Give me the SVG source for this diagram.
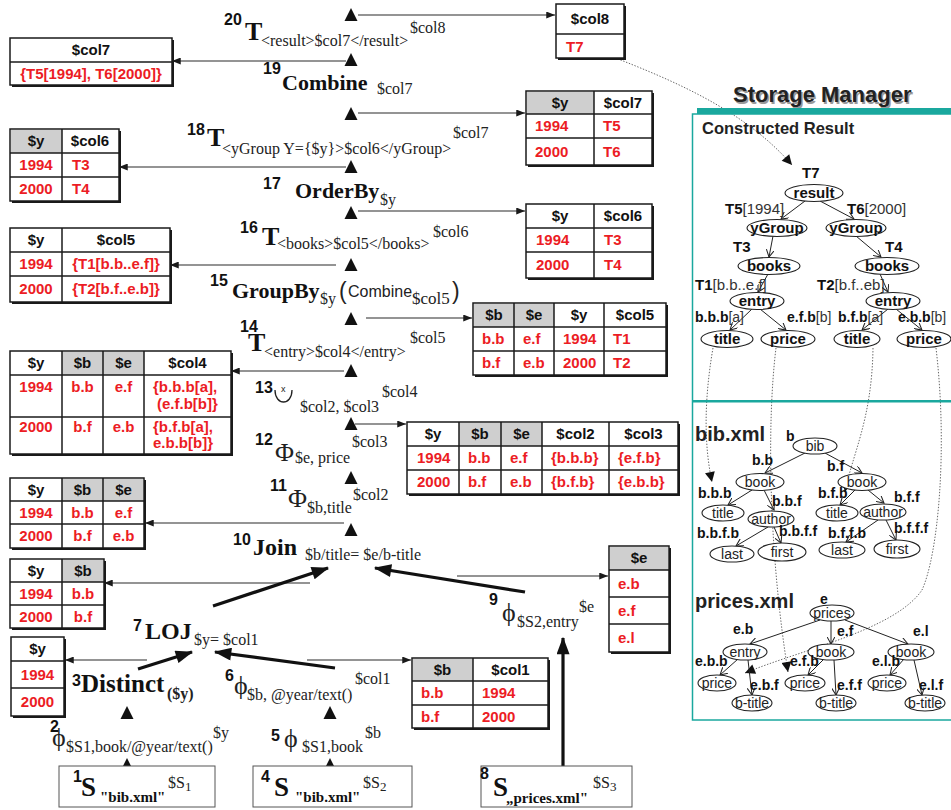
<svg xmlns="http://www.w3.org/2000/svg" width="951" height="810" viewBox="0 0 951 810">
<style>
  .sh{fill:#1a1a1a}
  .tb{fill:#fff;stroke:#1a1a1a;stroke-width:1.5}
  .hd{fill:#cfcfcf}
  .gl{stroke:#1a1a1a;stroke-width:1.5}
  .th{font:bold 15px "Liberation Sans",Arial,sans-serif;fill:#111}
  .td{font:bold 15px "Liberation Sans",Arial,sans-serif;fill:#ec1c24}
  .c{text-anchor:middle}
  .num{font:bold 16px "Liberation Sans",Arial,sans-serif;fill:#111}
  .big{font-family:"Liberation Serif","Times New Roman",serif;font-weight:bold;font-size:24px;fill:#111}
  .sub{font-family:"Liberation Serif","Times New Roman",serif;font-size:16px;fill:#222}
  .phi{font-family:"Liberation Serif","DejaVu Serif",serif;font-size:26px;fill:#222}
  .src{fill:#fff;stroke:#555;stroke-width:1}
  .ln{stroke:#2a2a2a;stroke-width:1.1;fill:none}
  .thick{stroke:#111;stroke-width:3.2;fill:none}
  .dot{stroke:#555;stroke-width:0.9;fill:none;stroke-dasharray:1.4 1.6}
  .tri{fill:#111}
  .nd{fill:#fff;stroke:#222;stroke-width:1.1}
  .nb{font:bold 15px "Liberation Sans",Arial,sans-serif;fill:#111;text-anchor:middle}
  .nr{font:14px "Liberation Sans",Arial,sans-serif;fill:#222;text-anchor:middle}
  .lb{font-family:"Liberation Sans",Arial,sans-serif;font-weight:bold;font-size:14px;fill:#111}
  .lb15{font-size:15px}
  .lr{font-weight:normal;fill:#333}
  .ed{stroke:#222;stroke-width:1;fill:none}
  .teal{fill:#1aa89e}
</style>
<defs>
  <marker id="a" viewBox="0 0 10 8" refX="10" refY="4" markerWidth="9" markerHeight="7" markerUnits="userSpaceOnUse" orient="auto"><path d="M0,0 L10,4 L0,8 z" fill="#1a1a1a"/></marker>
  <marker id="A" viewBox="0 0 16 12" refX="15" refY="6" markerWidth="18" markerHeight="13" markerUnits="userSpaceOnUse" orient="auto"><path d="M0,0 L16,6 L0,12 z" fill="#111"/></marker>
  <marker id="d" viewBox="0 0 10 10" refX="10" refY="5" markerWidth="11" markerHeight="10" markerUnits="userSpaceOnUse" orient="auto"><path d="M0,0 L10,5 L0,10 z" fill="#111"/></marker>
  <marker id="v" viewBox="0 0 10 10" refX="9" refY="5" markerWidth="8" markerHeight="8" markerUnits="userSpaceOnUse" orient="auto"><path d="M0,0 L9,5 L0,10" fill="none" stroke="#222" stroke-width="1.3"/></marker>
  <path id="tri" d="M0,0 L6.5,13 L-6.5,13 z"/>
</defs>
<rect width="951" height="810" fill="#fff"/>

<!-- ===== connectors ===== -->
<g id="connectors">
  <!-- pipeline triangles -->
  <g class="tri">
    <use href="#tri" x="351" y="8"/>
    <use href="#tri" x="351" y="53"/>
    <use href="#tri" x="351" y="107"/>
    <use href="#tri" x="351" y="160"/>
    <use href="#tri" x="351" y="206"/>
    <use href="#tri" x="351" y="258"/>
    <use href="#tri" x="351" y="312"/>
    <use href="#tri" x="351" y="364"/>
    <use href="#tri" x="351" y="417"/>
    <use href="#tri" x="351" y="471"/>
    <use href="#tri" x="351" y="523"/>
    <use href="#tri" x="127" y="706"/>
    <use href="#tri" x="330" y="706"/>
    <use href="#tri" x="127" y="758"/>
    <use href="#tri" x="330" y="758"/>
  </g>
  <!-- intermediate results -->
  <line class="ln" x1="358" y1="15" x2="555" y2="15" marker-end="url(#a)"/>
  <line class="ln" x1="346" y1="61" x2="172" y2="61" marker-end="url(#a)"/>
  <line class="ln" x1="358" y1="113" x2="525" y2="113" marker-end="url(#a)"/>
  <line class="ln" x1="346" y1="167" x2="119" y2="167" marker-end="url(#a)"/>
  <line class="ln" x1="358" y1="211" x2="525" y2="211" marker-end="url(#a)"/>
  <line class="ln" x1="336" y1="265" x2="170" y2="265" marker-end="url(#a)"/>
  <line class="ln" x1="366" y1="318" x2="472" y2="318" marker-end="url(#a)"/>
  <line class="ln" x1="344" y1="371" x2="231" y2="371" marker-end="url(#a)"/>
  <line class="ln" x1="355" y1="424" x2="406" y2="424" marker-end="url(#a)"/>
  <line class="ln" x1="344" y1="523" x2="145" y2="523" marker-end="url(#a)"/>
  <line class="ln" x1="310" y1="583" x2="104" y2="583" marker-end="url(#a)"/>
  <line class="ln" x1="457" y1="576" x2="608" y2="576" marker-end="url(#a)"/>
  <line class="ln" x1="147" y1="660" x2="65" y2="660" marker-end="url(#a)"/>
  <line class="ln" x1="307" y1="660" x2="411" y2="660" marker-end="url(#a)"/>
  <!-- data flow -->
  <line class="thick" x1="213" y1="606" x2="328" y2="568" marker-end="url(#A)"/>
  <line class="thick" x1="525" y1="592" x2="375" y2="568" marker-end="url(#A)"/>
  <line class="thick" x1="138" y1="669" x2="192" y2="652" marker-end="url(#A)"/>
  <line class="thick" x1="335" y1="668" x2="215" y2="652" marker-end="url(#A)"/>
  <line class="thick" x1="563" y1="766" x2="563" y2="638" marker-end="url(#A)"/>
  <!-- references into the stored trees -->
  <path class="dot" d="M587,47 C660,75 740,105 792,165" marker-end="url(#d)"/>
  <path class="dot" d="M713,348 C704,400 704,445 712,482" marker-end="url(#d)"/>
  <path class="dot" d="M776,348 C766,430 770,560 788,672" marker-end="url(#d)"/>
  <path class="dot" d="M873,348 C872,420 852,455 845,492" marker-end="url(#d)"/>
  <path class="dot" d="M936,348 C948,450 938,555 922,590 C895,630 800,650 745,673" marker-end="url(#d)"/>
</g>

<!-- ===== tables ===== -->
<g id="t-col8">
  <rect class="sh" x="558" y="6" width="68" height="54"/>
  <rect class="tb" x="556" y="4" width="68" height="54"/>
  <line class="gl" x1="556" y1="34" x2="624" y2="34"/>
  <text class="th c" x="590" y="24">$col8</text>
  <text class="td" x="566" y="52">T7</text>
</g>
<g id="t-col7">
  <rect class="sh" x="12" y="40" width="162" height="47"/>
  <rect class="tb" x="10" y="38" width="162" height="47"/>
  <line class="gl" x1="10" y1="62" x2="172" y2="62"/>
  <text class="th c" x="91" y="55">$col7</text>
  <text class="td c" x="91" y="79">{T5[1994], T6[2000]}</text>
</g>
<g id="t-y-col7">
  <rect class="sh" x="528" y="93" width="126" height="74"/>
  <rect class="tb" x="526" y="91" width="126" height="74"/>
  <rect class="hd" x="527" y="92" width="67" height="22"/>
  <line class="gl" x1="526" y1="114" x2="652" y2="114"/>
  <line class="gl" x1="526" y1="138" x2="652" y2="138"/>
  <line class="gl" x1="594" y1="91" x2="594" y2="165"/>
  <text class="th c" x="560" y="108">$y</text>
  <text class="th c" x="623" y="108">$col7</text>
  <text class="td" x="535" y="131">1994</text><text class="td" x="603" y="131">T5</text>
  <text class="td" x="535" y="157">2000</text><text class="td" x="603" y="157">T6</text>
</g>
<g id="t-y-col6-left">
  <rect class="sh" x="12" y="131" width="109" height="72"/>
  <rect class="tb" x="10" y="129" width="109" height="72"/>
  <rect class="hd" x="11" y="130" width="51" height="23"/>
  <line class="gl" x1="10" y1="153" x2="119" y2="153"/>
  <line class="gl" x1="10" y1="177" x2="119" y2="177"/>
  <line class="gl" x1="62" y1="129" x2="62" y2="201"/>
  <text class="th c" x="36" y="146">$y</text>
  <text class="th c" x="90" y="146">$col6</text>
  <text class="td c" x="36" y="170">1994</text><text class="td" x="72" y="170">T3</text>
  <text class="td c" x="36" y="194">2000</text><text class="td" x="72" y="194">T4</text>
</g>
<g id="t-y-col5-left">
  <rect class="sh" x="12" y="230" width="160" height="74"/>
  <rect class="tb" x="10" y="228" width="160" height="74"/>
  <line class="gl" x1="10" y1="252" x2="170" y2="252"/>
  <line class="gl" x1="10" y1="276" x2="170" y2="276"/>
  <line class="gl" x1="62" y1="228" x2="62" y2="302"/>
  <text class="th c" x="36" y="245">$y</text>
  <text class="th c" x="116" y="245">$col5</text>
  <text class="td c" x="36" y="269">1994</text><text class="td c" x="116" y="269">{T1[b.b..e.f]}</text>
  <text class="td c" x="36" y="294">2000</text><text class="td c" x="116" y="294">{T2[b.f..e.b]}</text>
</g>
<g id="t-y-col6-right">
  <rect class="sh" x="528" y="206" width="126" height="74"/>
  <rect class="tb" x="526" y="204" width="126" height="74"/>
  <line class="gl" x1="526" y1="228" x2="652" y2="228"/>
  <line class="gl" x1="526" y1="252" x2="652" y2="252"/>
  <line class="gl" x1="594" y1="204" x2="594" y2="278"/>
  <text class="th c" x="560" y="221">$y</text>
  <text class="th c" x="623" y="221">$col6</text>
  <text class="td" x="536" y="245">1994</text><text class="td" x="604" y="245">T3</text>
  <text class="td" x="536" y="270">2000</text><text class="td" x="604" y="270">T4</text>
</g>
<g id="t-b-e-y-col5">
  <rect class="sh" x="475" y="305" width="193" height="72"/>
  <rect class="tb" x="473" y="303" width="193" height="72"/>
  <rect class="hd" x="474" y="304" width="80" height="23"/>
  <line class="gl" x1="473" y1="327" x2="666" y2="327"/>
  <line class="gl" x1="473" y1="351" x2="666" y2="351"/>
  <line class="gl" x1="514" y1="303" x2="514" y2="375"/>
  <line class="gl" x1="554" y1="303" x2="554" y2="375"/>
  <line class="gl" x1="604" y1="303" x2="604" y2="375"/>
  <text class="th c" x="494" y="320">$b</text>
  <text class="th c" x="534" y="320">$e</text>
  <text class="th c" x="579" y="320">$y</text>
  <text class="th c" x="635" y="320">$col5</text>
  <text class="td" x="482" y="344">b.b</text><text class="td" x="523" y="344">e.f</text><text class="td" x="563" y="344">1994</text><text class="td" x="613" y="344">T1</text>
  <text class="td" x="482" y="368">b.f</text><text class="td" x="523" y="368">e.b</text><text class="td" x="563" y="368">2000</text><text class="td" x="613" y="368">T2</text>
</g>
<g id="t-y-b-e-col4">
  <rect class="sh" x="12" y="353" width="221" height="103"/>
  <rect class="tb" x="10" y="351" width="221" height="103"/>
  <rect class="hd" x="62" y="352" width="82" height="23"/>
  <line class="gl" x1="10" y1="375" x2="231" y2="375"/>
  <line class="gl" x1="10" y1="417" x2="231" y2="417"/>
  <line class="gl" x1="62" y1="351" x2="62" y2="454"/>
  <line class="gl" x1="103" y1="351" x2="103" y2="454"/>
  <line class="gl" x1="144" y1="351" x2="144" y2="454"/>
  <text class="th c" x="36" y="368">$y</text>
  <text class="th c" x="82.5" y="368">$b</text>
  <text class="th c" x="123.5" y="368">$e</text>
  <text class="th c" x="187.5" y="368">$col4</text>
  <text class="td c" x="36" y="392">1994</text><text class="td c" x="82.5" y="392">b.b</text><text class="td c" x="123.5" y="392">e.f</text>
  <text class="td" x="153" y="392">{b.b.b[a],</text><text class="td" x="157" y="409">(e.f.b[b]}</text>
  <text class="td c" x="36" y="432">2000</text><text class="td c" x="82.5" y="432">b.f</text><text class="td c" x="123.5" y="432">e.b</text>
  <text class="td" x="153" y="432">{b.f.b[a],</text><text class="td" x="153" y="448">e.b.b[b]}</text>
</g>
<g id="t-y-b-e-col2-col3">
  <rect class="sh" x="409" y="424" width="271" height="72"/>
  <rect class="tb" x="407" y="422" width="271" height="72"/>
  <rect class="hd" x="459" y="423" width="83" height="23"/>
  <line class="gl" x1="407" y1="446" x2="678" y2="446"/>
  <line class="gl" x1="407" y1="470" x2="678" y2="470"/>
  <line class="gl" x1="459" y1="422" x2="459" y2="494"/>
  <line class="gl" x1="501" y1="422" x2="501" y2="494"/>
  <line class="gl" x1="542" y1="422" x2="542" y2="494"/>
  <line class="gl" x1="609" y1="422" x2="609" y2="494"/>
  <text class="th c" x="433" y="439">$y</text>
  <text class="th c" x="480" y="439">$b</text>
  <text class="th c" x="521.5" y="439">$e</text>
  <text class="th c" x="575.5" y="439">$col2</text>
  <text class="th c" x="643.5" y="439">$col3</text>
  <text class="td" x="417" y="463">1994</text><text class="td" x="468" y="463">b.b</text><text class="td" x="510" y="463">e.f</text><text class="td" x="551" y="463">{b.b.b}</text><text class="td" x="618" y="463">{e.f.b}</text>
  <text class="td" x="417" y="487">2000</text><text class="td" x="468" y="487">b.f</text><text class="td" x="510" y="487">e.b</text><text class="td" x="551" y="487">{b.f.b}</text><text class="td" x="618" y="487">{e.b.b}</text>
</g>
<g id="t-y-b-e">
  <rect class="sh" x="12" y="480" width="134" height="70"/>
  <rect class="tb" x="10" y="478" width="134" height="70"/>
  <rect class="hd" x="62" y="479" width="81" height="22"/>
  <line class="gl" x1="10" y1="501" x2="144" y2="501"/>
  <line class="gl" x1="10" y1="524" x2="144" y2="524"/>
  <line class="gl" x1="62" y1="478" x2="62" y2="548"/>
  <line class="gl" x1="103" y1="478" x2="103" y2="548"/>
  <text class="th c" x="36" y="495">$y</text>
  <text class="th c" x="82.5" y="495">$b</text>
  <text class="th c" x="123.5" y="495">$e</text>
  <text class="td c" x="36" y="518">1994</text><text class="td c" x="82.5" y="518">b.b</text><text class="td c" x="123.5" y="518">e.f</text>
  <text class="td c" x="36" y="541">2000</text><text class="td c" x="82.5" y="541">b.f</text><text class="td c" x="123.5" y="541">e.b</text>
</g>
<g id="t-y-b">
  <rect class="sh" x="12" y="561" width="94" height="69"/>
  <rect class="tb" x="10" y="559" width="94" height="69"/>
  <rect class="hd" x="62" y="560" width="41" height="22"/>
  <line class="gl" x1="10" y1="582" x2="104" y2="582"/>
  <line class="gl" x1="10" y1="605" x2="104" y2="605"/>
  <line class="gl" x1="62" y1="559" x2="62" y2="628"/>
  <text class="th c" x="36" y="576">$y</text>
  <text class="th c" x="83" y="576">$b</text>
  <text class="td c" x="36" y="599">1994</text><text class="td c" x="83" y="599">b.b</text>
  <text class="td c" x="36" y="622">2000</text><text class="td c" x="83" y="622">b.f</text>
</g>
<g id="t-e">
  <rect class="sh" x="611" y="548" width="60" height="106"/>
  <rect class="tb" x="609" y="546" width="60" height="106"/>
  <rect class="hd" x="610" y="547" width="58" height="23"/>
  <line class="gl" x1="609" y1="570" x2="669" y2="570"/>
  <line class="gl" x1="609" y1="597" x2="669" y2="597"/>
  <line class="gl" x1="609" y1="624" x2="669" y2="624"/>
  <text class="th c" x="639" y="563">$e</text>
  <text class="td" x="618" y="589">e.b</text>
  <text class="td" x="618" y="616">e.f</text>
  <text class="td" x="618" y="643">e.l</text>
</g>
<g id="t-y">
  <rect class="sh" x="13" y="639" width="53" height="79"/>
  <rect class="tb" x="11" y="637" width="53" height="79"/>
  <line class="gl" x1="11" y1="661" x2="64" y2="661"/>
  <line class="gl" x1="11" y1="688" x2="64" y2="688"/>
  <text class="th c" x="37.5" y="654">$y</text>
  <text class="td c" x="37.5" y="680">1994</text>
  <text class="td c" x="37.5" y="707">2000</text>
</g>
<g id="t-b-col1">
  <rect class="sh" x="414" y="660" width="136" height="70"/>
  <rect class="tb" x="412" y="658" width="136" height="70"/>
  <rect class="hd" x="413" y="659" width="60" height="22"/>
  <line class="gl" x1="412" y1="681" x2="548" y2="681"/>
  <line class="gl" x1="412" y1="705" x2="548" y2="705"/>
  <line class="gl" x1="473" y1="658" x2="473" y2="728"/>
  <text class="th c" x="442.5" y="675">$b</text>
  <text class="th c" x="510.5" y="675">$col1</text>
  <text class="td" x="421" y="698">b.b</text><text class="td" x="482" y="698">1994</text>
  <text class="td" x="421" y="722">b.f</text><text class="td" x="482" y="722">2000</text>
</g>

<!-- ===== operators ===== -->
<g id="op20">
  <text class="num" x="224" y="25">20</text>
  <text class="big" x="245" y="40" style="font-size:26px">T</text>
  <text class="sub" x="261" y="46">&lt;result&gt;$col7&lt;/result&gt;</text>
  <text class="sub" x="410" y="33">$col8</text>
</g>
<g id="op19">
  <text class="num" x="263" y="74">19</text>
  <text class="big" x="282" y="90" style="font-size:22px">Combine</text>
  <text class="sub" x="377" y="94">$col7</text>
</g>
<g id="op18">
  <text class="num" x="187" y="135">18</text>
  <text class="big" x="207" y="146" style="font-size:26px">T</text>
  <text class="sub" x="222" y="154">&lt;yGroup Y={$y}&gt;$col6&lt;/yGroup&gt;</text>
  <text class="sub" x="453" y="138">$col7</text>
</g>
<g id="op17">
  <text class="num" x="263" y="189">17</text>
  <text class="big" x="295" y="198" style="font-size:22px">OrderBy</text>
  <text class="sub" x="380" y="205">$y</text>
</g>
<g id="op16">
  <text class="num" x="240" y="233">16</text>
  <text class="big" x="262" y="245" style="font-size:26px">T</text>
  <text class="sub" x="277" y="249">&lt;books&gt;$col5&lt;/books&gt;</text>
  <text class="sub" x="433" y="237">$col6</text>
</g>
<g id="op15">
  <text class="num" x="210" y="286">15</text>
  <text class="big" x="232" y="298" style="font-size:22px">GroupBy</text>
  <text class="sub" x="320" y="304">$y</text>
  <text x="339" y="299" font-family="Liberation Sans,Arial,sans-serif" font-size="23" fill="#222">(</text>
  <text x="348" y="297" font-family="Liberation Sans,Arial,sans-serif" font-size="16" fill="#222">Combine</text>
  <text class="sub" x="412" y="304" style="font-size:17px">$col5</text>
  <text x="452" y="299" font-family="Liberation Sans,Arial,sans-serif" font-size="23" fill="#222">)</text>
</g>
<g id="op14">
  <text class="num" x="240" y="332">14</text>
  <text class="big" x="248" y="351" style="font-size:26px">T</text>
  <text class="sub" x="264" y="357">&lt;entry&gt;$col4&lt;/entry&gt;</text>
  <text class="sub" x="410" y="343">$col5</text>
</g>
<g id="op13">
  <text class="num" x="255" y="393">13</text>
  <path d="M275,390 C275,406 292,406 292,390" fill="none" stroke="#222" stroke-width="1.3"/>
  <text x="281" y="392" font-family="Liberation Sans,Arial,sans-serif" font-size="9" fill="#222">x</text>
  <text class="sub" x="300" y="412">$col2, $col3</text>
  <text class="sub" x="382" y="397">$col4</text>
</g>
<g id="op12">
  <text class="num" x="255" y="445">12</text>
  <text class="phi" x="275" y="461">Φ</text>
  <text class="sub" x="295" y="463">$e, price</text>
  <text class="sub" x="352" y="447">$col3</text>
</g>
<g id="op11">
  <text class="num" x="270" y="491">11</text>
  <text class="phi" x="288" y="507">Φ</text>
  <text class="sub" x="307" y="513">$b,title</text>
  <text class="sub" x="353" y="500">$col2</text>
</g>
<g id="op10">
  <text class="num" x="233" y="545">10</text>
  <text class="big" x="253" y="555">Join</text>
  <text class="sub" x="305" y="560">$b/title= $e/b-title</text>
</g>
<g id="op9">
  <text class="num" x="489" y="605">9</text>
  <text class="phi" x="502" y="621">ϕ</text>
  <text class="sub" x="517" y="627">$S2,entry</text>
  <text class="sub" x="579" y="612">$e</text>
</g>
<g id="op7">
  <text class="num" x="133" y="631">7</text>
  <text class="big" x="145" y="639">LOJ</text>
  <text class="sub" x="194" y="645">$y= $col1</text>
</g>
<g id="op3">
  <text class="num" x="72" y="686">3</text>
  <text class="big" x="81" y="692" style="font-size:25px">Distinct</text>
  <text class="sub" x="167" y="699" style="font-weight:bold">($y)</text>
</g>
<g id="op6">
  <text class="num" x="225" y="681">6</text>
  <text class="phi" x="234" y="694">ϕ</text>
  <text class="sub" x="247" y="700">$b, @year/text()</text>
  <text class="sub" x="355" y="684">$col1</text>
</g>
<g id="op2">
  <text class="num" x="50" y="732">2</text>
  <text class="phi" x="52" y="746">ϕ</text>
  <text class="sub" x="66" y="752">$S1,book/@year/text()</text>
  <text class="sub" x="213" y="738">$y</text>
</g>
<g id="op5">
  <text class="num" x="271" y="741">5</text>
  <text class="phi" x="284" y="747">ϕ</text>
  <text class="sub" x="302" y="752">$S1,book</text>
  <text class="sub" x="365" y="738">$b</text>
</g>
<g id="op1">
  <rect class="src" x="59" y="766" width="156" height="41"/>
  <text class="num" x="73" y="782">1</text>
  <text class="big" x="81" y="796" style="font-size:27px">S</text>
  <text class="big" x="100" y="802" style="font-size:15px">"bib.xml"</text>
  <text class="sub" x="168" y="788">$S<tspan font-size="13" dy="3">1</tspan></text>
</g>
<g id="op4">
  <rect class="src" x="253" y="766" width="159" height="41"/>
  <text class="num" x="261" y="782">4</text>
  <text class="big" x="274" y="796" style="font-size:27px">S</text>
  <text class="big" x="295" y="802" style="font-size:15px">"bib.xml"</text>
  <text class="sub" x="363" y="788">$S<tspan font-size="13" dy="3">2</tspan></text>
</g>
<g id="op8">
  <rect class="src" x="481" y="766" width="151" height="41"/>
  <text class="num" x="480" y="779">8</text>
  <text class="big" x="493" y="796" style="font-size:27px">S</text>
  <text class="big" x="506" y="803" style="font-size:15px">„prices.xml"</text>
  <text class="sub" x="593" y="788">$S<tspan font-size="13" dy="3">3</tspan></text>
</g>

<!-- ===== storage manager ===== -->
<g id="storage-manager">
  <text x="734.5" y="103.5" font-family="Liberation Sans,Arial,sans-serif" font-weight="bold" font-size="22" fill="#9a9a9a">Storage Manager</text>
  <text x="733" y="102" font-family="Liberation Sans,Arial,sans-serif" font-weight="bold" font-size="22" fill="#222">Storage Manager</text>
  <rect class="teal" x="697" y="108" width="254" height="6"/>
  <rect x="692.5" y="114" width="270" height="606" fill="none" stroke="#1aa89e" stroke-width="1.5"/>
  <rect class="teal" x="692" y="400" width="259" height="2.5"/>
  <text x="702" y="134" font-family="Liberation Sans,Arial,sans-serif" font-weight="bold" font-size="16.5" fill="#222">Constructed Result</text>
  <text x="695" y="441" font-family="Liberation Sans,Arial,sans-serif" font-weight="bold" font-size="20" fill="#222">bib.xml</text>
  <text x="695" y="608" font-family="Liberation Sans,Arial,sans-serif" font-weight="bold" font-size="20" fill="#222">prices.xml</text>
</g>

<!-- constructed result tree -->
<g id="result-edges">
  <line class="ed" x1="805" y1="201" x2="781" y2="219" marker-end="url(#v)"/>
  <line class="ed" x1="820" y1="201" x2="854" y2="219" marker-end="url(#v)"/>
  <line class="ed" x1="773" y1="236" x2="769" y2="257" marker-end="url(#v)"/>
  <line class="ed" x1="856" y1="236" x2="881" y2="257" marker-end="url(#v)"/>
  <line class="ed" x1="768" y1="274" x2="758" y2="292" marker-end="url(#v)"/>
  <line class="ed" x1="880" y1="274" x2="888" y2="292" marker-end="url(#v)"/>
  <line class="ed" x1="752" y1="309" x2="730" y2="330" marker-end="url(#v)"/>
  <line class="ed" x1="760" y1="309" x2="786" y2="330" marker-end="url(#v)"/>
  <line class="ed" x1="888" y1="309" x2="862" y2="330" marker-end="url(#v)"/>
  <line class="ed" x1="896" y1="309" x2="922" y2="330" marker-end="url(#v)"/>
</g>
<g id="n-result">
  <text class="lb lb15" x="802" y="178">T7</text>
  <ellipse class="nd" cx="814" cy="193" rx="29" ry="8.5"/>
  <text class="nb" x="814" y="198">result</text>
</g>
<g id="n-ygroup-1994">
  <text class="lb lb15" x="725" y="214">T5<tspan class="lr">[1994]</tspan></text>
  <ellipse class="nd" cx="777" cy="228" rx="30" ry="8.5"/>
  <text class="nb" x="777" y="233">yGroup</text>
</g>
<g id="n-ygroup-2000">
  <text class="lb lb15" x="847" y="214">T6<tspan class="lr">[2000]</tspan></text>
  <ellipse class="nd" cx="856" cy="228" rx="30" ry="8.5"/>
  <text class="nb" x="856" y="233">yGroup</text>
</g>
<g id="n-books-1">
  <text class="lb lb15" x="733" y="252">T3</text>
  <ellipse class="nd" cx="769" cy="266" rx="31" ry="8.5"/>
  <text class="nb" x="769" y="271">books</text>
</g>
<g id="n-books-2">
  <text class="lb lb15" x="885" y="252">T4</text>
  <ellipse class="nd" cx="887" cy="266" rx="32" ry="8.5"/>
  <text class="nb" x="887" y="271">books</text>
</g>
<g id="n-entry-1">
  <text class="lb lb15" x="695" y="290">T1<tspan class="lr">[b.b..e.f]</tspan></text>
  <ellipse class="nd" cx="757" cy="301" rx="27" ry="8.5"/>
  <text class="nb" x="757" y="306">entry</text>
</g>
<g id="n-entry-2">
  <text class="lb lb15" x="817" y="290">T2<tspan class="lr">[b.f..eb]</tspan></text>
  <ellipse class="nd" cx="893" cy="301" rx="27" ry="8.5"/>
  <text class="nb" x="893" y="306">entry</text>
</g>
<g id="n-title-1">
  <text class="lb" x="695" y="322">b.b.b<tspan class="lr">[a]</tspan></text>
  <ellipse class="nd" cx="727" cy="339" rx="26" ry="8.5"/>
  <text class="nb" x="727" y="344">title</text>
</g>
<g id="n-price-1">
  <text class="lb" x="787" y="322">e.f.b<tspan class="lr">[b]</tspan></text>
  <ellipse class="nd" cx="788" cy="339" rx="27" ry="8.5"/>
  <text class="nb" x="788" y="344">price</text>
</g>
<g id="n-title-2">
  <text class="lb" x="838" y="322">b.f.b<tspan class="lr">[a]</tspan></text>
  <ellipse class="nd" cx="857" cy="339" rx="23" ry="8.5"/>
  <text class="nb" x="857" y="344">title</text>
</g>
<g id="n-price-2">
  <text class="lb" x="898" y="322">e.b.b<tspan class="lr">[b]</tspan></text>
  <ellipse class="nd" cx="924" cy="339" rx="27" ry="8.5"/>
  <text class="nb" x="924" y="344">price</text>
</g>

<!-- bib.xml tree -->
<g id="bib-edges">
  <line class="ed" x1="805" y1="453" x2="765" y2="473" marker-end="url(#v)"/>
  <line class="ed" x1="825" y1="453" x2="862" y2="473" marker-end="url(#v)"/>
  <line class="ed" x1="752" y1="490" x2="728" y2="505" marker-end="url(#v)"/>
  <line class="ed" x1="764" y1="490" x2="774" y2="510" marker-end="url(#v)"/>
  <line class="ed" x1="855" y1="490" x2="840" y2="505" marker-end="url(#v)"/>
  <line class="ed" x1="868" y1="490" x2="884" y2="503" marker-end="url(#v)"/>
  <line class="ed" x1="768" y1="527" x2="736" y2="546" marker-end="url(#v)"/>
  <line class="ed" x1="774" y1="527" x2="781" y2="543" marker-end="url(#v)"/>
  <line class="ed" x1="878" y1="520" x2="846" y2="542" marker-end="url(#v)"/>
  <line class="ed" x1="886" y1="520" x2="896" y2="540" marker-end="url(#v)"/>
</g>
<g id="n-bib">
  <text class="lb" x="786" y="441">b</text>
  <ellipse class="nd" cx="815" cy="446" rx="22" ry="8"/>
  <text class="nr" x="815" y="451">bib</text>
</g>
<g id="n-book-bb">
  <text class="lb" x="752" y="465">b.b</text>
  <ellipse class="nd" cx="760" cy="482" rx="24" ry="8.5"/>
  <text class="nr" x="760" y="487">book</text>
</g>
<g id="n-book-bf">
  <text class="lb" x="827" y="471">b.f</text>
  <ellipse class="nd" cx="862" cy="482" rx="24" ry="8.5"/>
  <text class="nr" x="862" y="487">book</text>
</g>
<g id="n-title-bbb">
  <text class="lb" x="698" y="498">b.b.b</text>
  <ellipse class="nd" cx="723" cy="513" rx="21" ry="8"/>
  <text class="nr" x="723" y="518">title</text>
</g>
<g id="n-author-bbf">
  <text class="lb" x="772" y="506">b.b.f</text>
  <ellipse class="nd" cx="771" cy="519" rx="23" ry="8"/>
  <text class="nr" x="771" y="524">author</text>
</g>
<g id="n-title-bfb">
  <text class="lb" x="818" y="498">b.f.b</text>
  <ellipse class="nd" cx="837" cy="513" rx="21" ry="8"/>
  <text class="nr" x="837" y="518">title</text>
</g>
<g id="n-author-bff">
  <text class="lb" x="894" y="502">b.f.f</text>
  <ellipse class="nd" cx="883" cy="512" rx="23" ry="8"/>
  <text class="nr" x="883" y="517">author</text>
</g>
<g id="n-last-bbfb">
  <text class="lb" x="697" y="538">b.b.f.b</text>
  <ellipse class="nd" cx="732" cy="554" rx="22" ry="8"/>
  <text class="nr" x="732" y="559">last</text>
</g>
<g id="n-first-bbff">
  <text class="lb" x="779" y="536">b.b.f.f</text>
  <ellipse class="nd" cx="782" cy="552" rx="24" ry="9"/>
  <text class="nr" x="782" y="557">first</text>
</g>
<g id="n-last-bffb">
  <text class="lb" x="828" y="538">b.f.f.b</text>
  <ellipse class="nd" cx="842" cy="550" rx="23" ry="8"/>
  <text class="nr" x="842" y="555">last</text>
</g>
<g id="n-first-bfff">
  <text class="lb" x="894" y="533">b.f.f.f</text>
  <ellipse class="nd" cx="897" cy="549" rx="23" ry="9"/>
  <text class="nr" x="897" y="554">first</text>
</g>

<!-- prices.xml tree -->
<g id="prices-edges">
  <line class="ed" x1="820" y1="620" x2="750" y2="644" marker-end="url(#v)"/>
  <line class="ed" x1="831" y1="621" x2="831" y2="644" marker-end="url(#v)"/>
  <line class="ed" x1="845" y1="620" x2="908" y2="644" marker-end="url(#v)"/>
  <line class="ed" x1="738" y1="659" x2="720" y2="675" marker-end="url(#v)"/>
  <line class="ed" x1="748" y1="660" x2="752" y2="695" marker-end="url(#v)"/>
  <line class="ed" x1="824" y1="659" x2="808" y2="675" marker-end="url(#v)"/>
  <line class="ed" x1="834" y1="660" x2="836" y2="695" marker-end="url(#v)"/>
  <line class="ed" x1="904" y1="659" x2="890" y2="675" marker-end="url(#v)"/>
  <line class="ed" x1="914" y1="660" x2="922" y2="695" marker-end="url(#v)"/>
</g>
<g id="n-prices">
  <text class="lb" x="820" y="604">e</text>
  <ellipse class="nd" cx="832" cy="613" rx="22" ry="8"/>
  <text class="nr" x="832" y="618">prices</text>
</g>
<g id="n-entry-eb">
  <text class="lb" x="733" y="634">e.b</text>
  <ellipse class="nd" cx="745" cy="652" rx="22" ry="8"/>
  <text class="nr" x="745" y="657">entry</text>
</g>
<g id="n-book-ef">
  <text class="lb" x="837" y="636">e.f</text>
  <ellipse class="nd" cx="831" cy="652" rx="23" ry="8"/>
  <text class="nr" x="831" y="657">book</text>
</g>
<g id="n-book-el">
  <text class="lb" x="913" y="636">e.l</text>
  <ellipse class="nd" cx="911" cy="652" rx="23" ry="8"/>
  <text class="nr" x="911" y="657">book</text>
</g>
<g id="n-price-ebb">
  <text class="lb" x="695" y="666">e.b.b</text>
  <ellipse class="nd" cx="717" cy="683" rx="19" ry="8"/>
  <text class="nr" x="717" y="688">price</text>
</g>
<g id="n-btitle-ebf">
  <text class="lb" x="750" y="690">e.b.f</text>
  <ellipse class="nd" cx="752" cy="703" rx="20" ry="8"/>
  <text class="nr" x="752" y="708">b-title</text>
</g>
<g id="n-price-efb">
  <text class="lb" x="790" y="666">e.f.b</text>
  <ellipse class="nd" cx="805" cy="683" rx="20" ry="8"/>
  <text class="nr" x="805" y="688">price</text>
</g>
<g id="n-btitle-eff">
  <text class="lb" x="837" y="690">e.f.f</text>
  <ellipse class="nd" cx="836" cy="703" rx="20" ry="8"/>
  <text class="nr" x="836" y="708">b-title</text>
</g>
<g id="n-price-elb">
  <text class="lb" x="872" y="666">e.l.b</text>
  <ellipse class="nd" cx="887" cy="683" rx="19" ry="8"/>
  <text class="nr" x="887" y="688">price</text>
</g>
<g id="n-btitle-elf">
  <text class="lb" x="919" y="690">e.l.f</text>
  <ellipse class="nd" cx="925" cy="703" rx="20" ry="8"/>
  <text class="nr" x="925" y="708">b-title</text>
</g>
</svg>
